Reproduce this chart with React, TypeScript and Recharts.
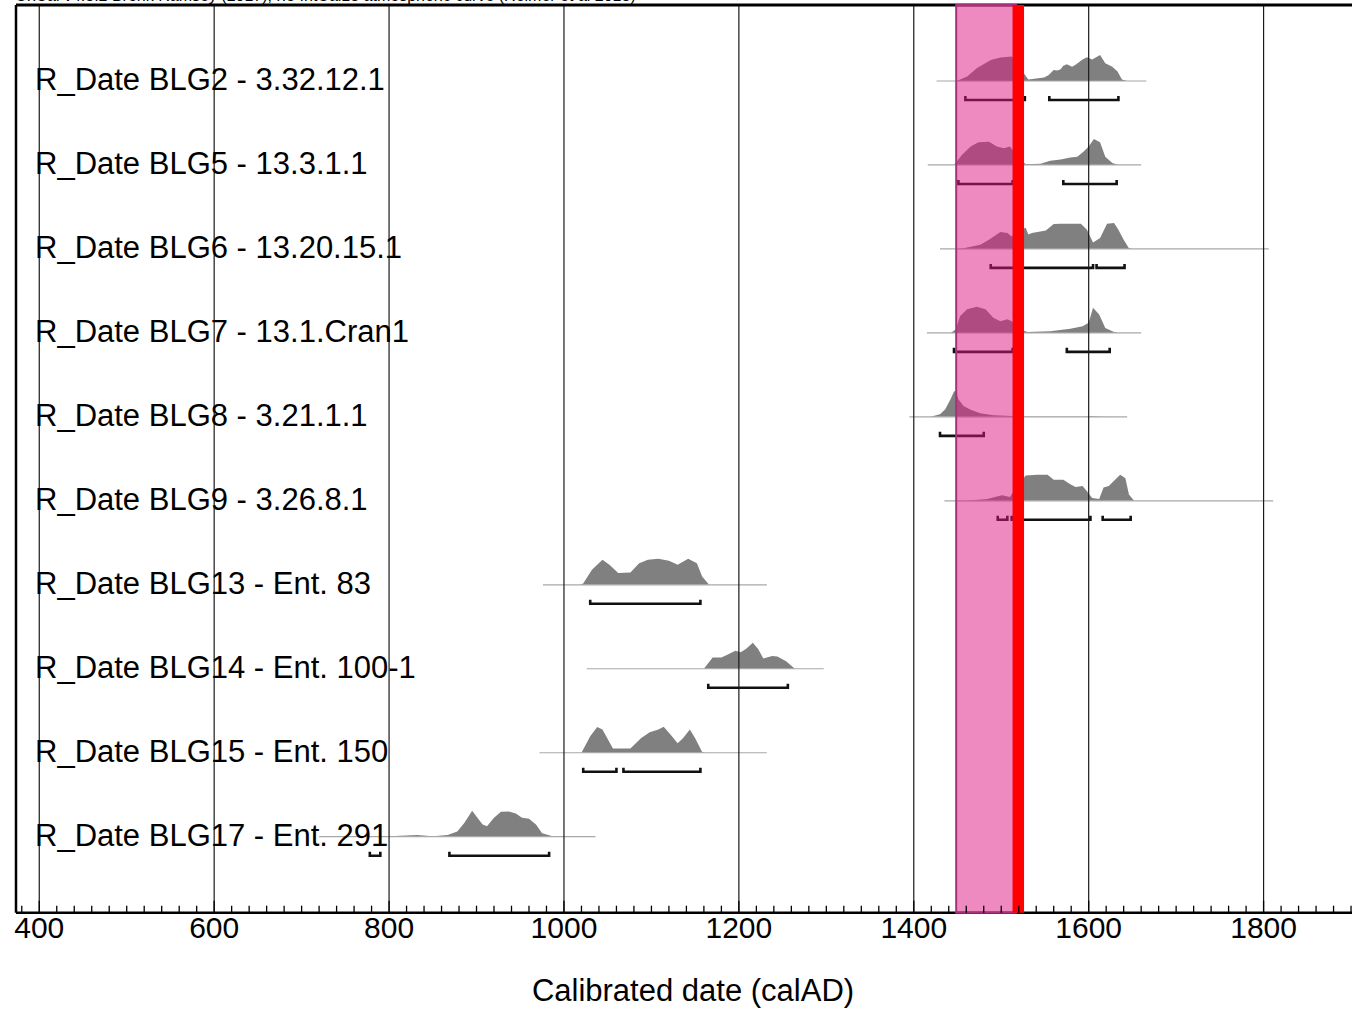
import { ComposedChart, XAxis, YAxis, Area, Line, ReferenceLine, ReferenceArea } from 'recharts'

const FONT = '"Liberation Sans", Arial, Helvetica, sans-serif'

// x range visible in the crop (calAD)
const YEAR_DOMAIN: [number, number] = [373.4, 1901.1]
// rows are 0..9 from the top; reversed axis
const ROW_DOMAIN: [number, number] = [-0.905, 9.905]
const PEAK_HEIGHT = 0.31

const TITLE = 'OxCal v4.3.2 Bronk Ramsey (2017); r:5 IntCal13 atmospheric curve (Reimer et al 2013)'
const AXIS_TITLE = 'Calibrated date (calAD)'

const LABELS = [
  'R_Date BLG2 - 3.32.12.1',
  'R_Date BLG5 - 13.3.1.1',
  'R_Date BLG6 - 13.20.15.1',
  'R_Date BLG7 - 13.1.Cran1',
  'R_Date BLG8 - 3.21.1.1',
  'R_Date BLG9 - 3.26.8.1',
  'R_Date BLG13 - Ent. 83',
  'R_Date BLG14 - Ent. 100-1',
  'R_Date BLG15 - Ent. 150',
  'R_Date BLG17 - Ent. 291',
]

// [year, relative probability]
const BLG2 = [[1449, 0], [1461, 0.17], [1472, 0.49], [1488, 0.81], [1499, 0.9], [1512, 0.94], [1520, 0.6], [1528, 0.19], [1531, 0.06], [1549, 0.13], [1554, 0.22], [1560, 0.42], [1564, 0.4], [1568, 0.45], [1571, 0.59], [1575, 0.64], [1581, 0.55], [1585, 0.62], [1593, 0.83], [1598, 0.91], [1604, 0.83], [1610, 0.94], [1613, 1.0], [1619, 0.68], [1627, 0.55], [1633, 0.36], [1638, 0.06], [1644, 0]]
const BLG5 = [[1446, 0], [1455, 0.38], [1465, 0.71], [1474, 0.87], [1486, 0.89], [1495, 0.71], [1503, 0.64], [1510, 0.71], [1519, 0.3], [1528, 0.03], [1545, 0.05], [1556, 0.16], [1568, 0.21], [1579, 0.29], [1587, 0.32], [1594, 0.51], [1600, 0.71], [1606, 1.0], [1613, 0.87], [1619, 0.32], [1627, 0.08], [1634, 0]]
const BLG6 = [[1453, 0], [1476, 0.16], [1486, 0.35], [1499, 0.65], [1507, 0.61], [1512, 0.48], [1520, 0.7], [1528, 0.81], [1531, 0.55], [1535, 0.61], [1551, 0.71], [1560, 0.96], [1568, 0.97], [1591, 0.97], [1598, 0.74], [1605, 0.25], [1613, 0.42], [1621, 0.97], [1629, 1.0], [1634, 0.74], [1640, 0.35], [1646, 0.03], [1650, 0]]
const BLG7 = [[1442, 0], [1448, 0.13], [1453, 0.65], [1461, 0.91], [1472, 1.0], [1482, 0.91], [1491, 0.58], [1499, 0.45], [1507, 0.52], [1512, 0.45], [1520, 0.15], [1530, 0.03], [1556, 0.06], [1579, 0.16], [1593, 0.26], [1600, 0.39], [1605, 0.97], [1612, 0.71], [1619, 0.19], [1629, 0.03], [1634, 0]]
const BLG8 = [[1419, 0], [1430, 0.1], [1436, 0.29], [1442, 0.68], [1446, 0.97], [1448, 1.0], [1451, 0.68], [1457, 0.42], [1465, 0.27], [1476, 0.14], [1491, 0.06], [1512, 0.03], [1537, 0.01], [1595, 0.01], [1602, 0.03], [1613, 0.01], [1629, 0]]
const BLG9 = [[1461, 0], [1484, 0.07], [1495, 0.17], [1501, 0.21], [1510, 0.15], [1519, 0.6], [1528, 0.97], [1541, 1.0], [1553, 1.0], [1560, 0.81], [1571, 0.81], [1579, 0.64], [1585, 0.53], [1593, 0.57], [1598, 0.37], [1604, 0.11], [1612, 0.07], [1617, 0.51], [1623, 0.57], [1631, 0.84], [1636, 1.0], [1642, 0.87], [1646, 0.24], [1652, 0]]
const BLG13 = [[1018, 0], [1022, 0.05], [1032, 0.58], [1044, 0.96], [1052, 0.77], [1062, 0.45], [1076, 0.47], [1086, 0.83], [1096, 0.96], [1108, 1.0], [1120, 0.92], [1130, 0.77], [1142, 1.0], [1152, 0.83], [1158, 0.32], [1166, 0]]
const BLG14 = [[1160, 0], [1170, 0.43], [1180, 0.43], [1188, 0.56], [1196, 0.69], [1202, 0.63], [1208, 0.76], [1216, 1.0], [1222, 0.76], [1228, 0.39], [1238, 0.49], [1244, 0.47], [1254, 0.29], [1264, 0]]
const BLG15 = [[1020, 0], [1030, 0.63], [1038, 0.99], [1044, 0.89], [1056, 0.16], [1076, 0.16], [1088, 0.56], [1098, 0.79], [1108, 0.89], [1114, 1.0], [1122, 0.69], [1130, 0.36], [1136, 0.56], [1144, 0.89], [1150, 0.56], [1158, 0.03], [1162, 0]]
const BLG17 = [[770, 0], [800, 0.02], [832, 0.07], [850, 0.02], [867, 0.07], [878, 0.2], [886, 0.53], [895, 1.0], [901, 0.73], [907, 0.47], [912, 0.4], [920, 0.73], [928, 0.96], [937, 0.97], [945, 0.89], [952, 0.73], [960, 0.69], [968, 0.47], [975, 0.13], [989, 0]]

const DENSITIES = [BLG2, BLG5, BLG6, BLG7, BLG8, BLG9, BLG13, BLG14, BLG15, BLG17]

// extent of the thin baseline under each distribution
const RANGES = [[1426, 1666], [1416, 1660], [1430, 1806], [1415, 1660], [1395, 1644], [1435, 1811], [976, 1232], [1026, 1297], [972, 1232], [720, 1036]]

// 95.4% ranges
const BRACKETS = [
  [[1459, 1527], [1555, 1634]],
  [[1451, 1513], [1571, 1632]],
  [[1488, 1605], [1609, 1641]],
  [[1446, 1513], [1575, 1624]],
  [[1430, 1480]],
  [[1496, 1507], [1512, 1602], [1616, 1648]],
  [[1030, 1156]],
  [[1165, 1256]],
  [[1022, 1060], [1068, 1156]],
  [[778, 790], [869, 983]],
]

const MAJOR_TICKS = [400, 600, 800, 1000, 1200, 1400, 1600, 1800]
const MINOR_TICKS = Array.from({ length: 77 }, (_, i) => 380 + i * 20)
const ROW_TICKS = LABELS.map((_, i) => i)

// pink interval and red event line
const BAND = [1448.5, 1517]
const EVENT_YEAR = 1519.5

function YearTick({ x, y, payload }: any) {
  const major = payload.value % 200 === 0
  return (
    <g>
      <line x1={x} x2={x} y1={y} y2={y - (major ? 12 : 7)} stroke="#000" strokeWidth={1.3} />
      {major && (
        <text x={x} y={y + 25} textAnchor="middle" fontSize={30} fontFamily={FONT} fill="#000">
          {payload.value}
        </text>
      )}
    </g>
  )
}

function RowTick({ x, y, payload }: any) {
  return (
    <text x={x + 19} y={y + 9} fontSize={31} fontFamily={FONT} fill="#000">
      {LABELS[payload.value]}
    </text>
  )
}

export default function App() {
  return (
    <div style={{ position: 'absolute', left: 0, top: 0, width: 1352, height: 1010, background: '#fff', overflow: 'hidden' }}>
      <div
        style={{
          position: 'absolute',
          left: 15,
          top: -12,
          fontFamily: FONT,
          fontSize: 16,
          lineHeight: '16px',
          whiteSpace: 'nowrap',
          color: '#000',
        }}
      >
        {TITLE}
      </div>
      <ComposedChart width={1352} height={1010} margin={{ top: 0, right: 0, left: 0, bottom: 0 }}>
        <XAxis
          dataKey="year"
          type="number"
          domain={YEAR_DOMAIN}
          allowDataOverflow
          ticks={MINOR_TICKS}
          interval={0}
          tickSize={0}
          tickMargin={0}
          tickLine={false}
          tick={<YearTick />}
          height={97.3}
          axisLine={{ stroke: '#000', strokeWidth: 2.5 }}
          label={{ value: AXIS_TITLE, position: 'insideBottom', offset: 9, dx: 9, fontSize: 31, fontFamily: FONT, fill: '#000' }}
        />
        <XAxis
          xAxisId="top"
          orientation="top"
          type="number"
          domain={YEAR_DOMAIN}
          allowDataOverflow
          height={5}
          tick={false}
          tickLine={false}
          axisLine={{ stroke: '#000', strokeWidth: 3 }}
        />
        <YAxis
          type="number"
          domain={ROW_DOMAIN}
          reversed
          allowDataOverflow
          width={16}
          ticks={ROW_TICKS}
          interval={0}
          tickSize={0}
          tickMargin={0}
          tickLine={false}
          tick={<RowTick />}
          axisLine={{ stroke: '#000', strokeWidth: 2.5 }}
        />

        {DENSITIES.map((d, i) => (
          <Area
            key={`d${i}`}
            data={d.map(([year, p]) => ({ year, y: i - PEAK_HEIGHT * p }))}
            dataKey="y"
            baseValue={i}
            type="linear"
            stroke="none"
            fill="#808080"
            fillOpacity={1}
            dot={false}
            activeDot={false}
            isAnimationActive={false}
            zIndex={100}
          />
        ))}

        {RANGES.map(([a, b], i) => (
          <Line
            key={`r${i}`}
            data={[{ year: a, y: i }, { year: b, y: i }]}
            dataKey="y"
            type="linear"
            stroke="#a8a8a8"
            strokeWidth={1.2}
            dot={false}
            activeDot={false}
            isAnimationActive={false}
            zIndex={110}
          />
        ))}

        {BRACKETS.flatMap((list, i) =>
          list.map(([a, b], j) => (
            <Line
              key={`b${i}-${j}`}
              data={[
                { year: a, y: i + 0.178 },
                { year: a, y: i + 0.226 },
                { year: b, y: i + 0.226 },
                { year: b, y: i + 0.178 },
              ]}
              dataKey="y"
              type="linear"
              stroke="#111"
              strokeWidth={2.6}
              strokeLinejoin="miter"
              dot={false}
              activeDot={false}
              isAnimationActive={false}
              zIndex={400}
            />
          ))
        )}

        {MAJOR_TICKS.map((t) => (
          <ReferenceLine key={`g${t}`} x={t} stroke="#1a1a1a" strokeWidth={1.2} zIndex={450} />
        ))}

        <ReferenceArea
          x1={BAND[0]}
          x2={BAND[1]}
          fill="#de1581"
          fillOpacity={0.5}
          stroke="#a8307e"
          strokeWidth={2}
          zIndex={1500}
        />
        <ReferenceLine x={EVENT_YEAR} stroke="#ff0000" strokeWidth={11.5} zIndex={1600} />
      </ComposedChart>
    </div>
  )
}
